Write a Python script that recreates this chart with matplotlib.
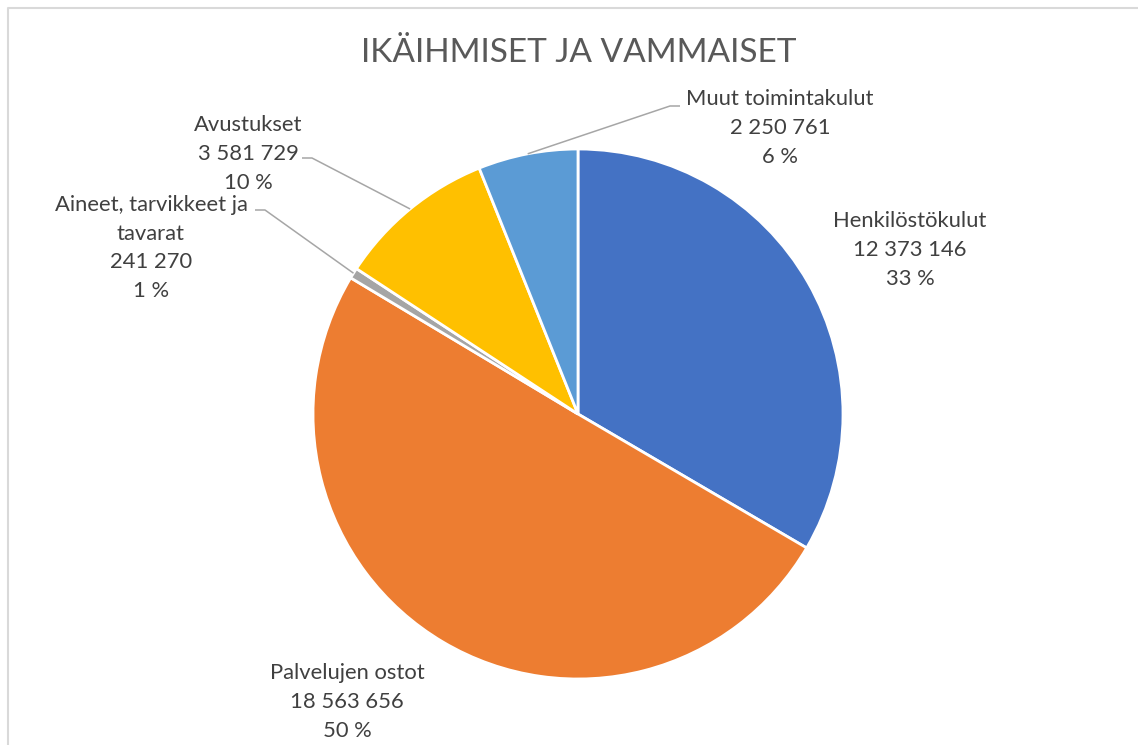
import numpy as np
import matplotlib.pyplot as plt

# data
names = ["Henkilöstökulut", "Palvelujen ostot", "Aineet, tarvikkeet ja\ntavarat",
         "Avustukset", "Muut toimintakulut"]
values = [12373146, 18563656, 241270, 3581729, 2250761]
colors = ["#4472C4", "#ED7D31", "#A5A5A5", "#FFC000", "#5B9BD5"]
title = "IKÄIHMISET JA VAMMAISET"

W, H = 1138, 745
plt.rcParams['font.family'] = ['Lato', 'DejaVu Sans']

fig = plt.figure(figsize=(W / 100, H / 100), dpi=100)
ax = fig.add_axes([0, 0, 1, 1])

# pie in pixel-like coordinates (y up)
cx, cy, r = 578, H - 414, 265
wedges, _ = ax.pie(values, colors=colors, startangle=90, counterclock=False,
                   radius=r, center=(cx, cy),
                   wedgeprops=dict(edgecolor="white", linewidth=2))
ax.set_xlim(0, W)
ax.set_ylim(0, H)
ax.set_aspect("equal")
ax.axis("off")

total = sum(values)

def fmt(v):
    return f"{v:,}".replace(",", " ")

# label block centres (px, from top) and leader lines
label_pos = [(910, 250), (347, 702), (151, 248), (248, 154), (780, 128)]
# leader start (px, from top) for the small slices, None = no leader
leader_start = [None, None, (255, 210), (302, 158), (680, 106)]

for i, (nm, v) in enumerate(zip(names, values)):
    txt = f"{nm}\n{fmt(v)}\n{round(v / total * 100):.0f} %"
    x, y = label_pos[i]
    ax.text(x, H - y, txt, ha="center", va="center", fontsize=15.8,
            color="#404040", linespacing=1.55)
    if leader_start[i] is not None:
        w = wedges[i]
        mid = np.deg2rad((w.theta1 + w.theta2) / 2)
        ex, ey = cx + r * np.cos(mid), cy + r * np.sin(mid)
        sx, sy = leader_start[i]
        sy = H - sy
        kx = sx + 10 if sx < cx else sx - 10
        ax.plot([sx, kx, ex], [sy, sy, ey], color="#a6a6a6", lw=1.1,
                solid_capstyle="butt")

ax.text(579, H - 62, title, ha="center", va="baseline", fontsize=24,
        color="#595959")

# chart frame
ax.plot([8.5, 8.5, W + 5], [-5, H - 7.5, H - 7.5], color="#d9d9d9", lw=1.5,
        clip_on=False)

fig.savefig("out.png", dpi=100)
